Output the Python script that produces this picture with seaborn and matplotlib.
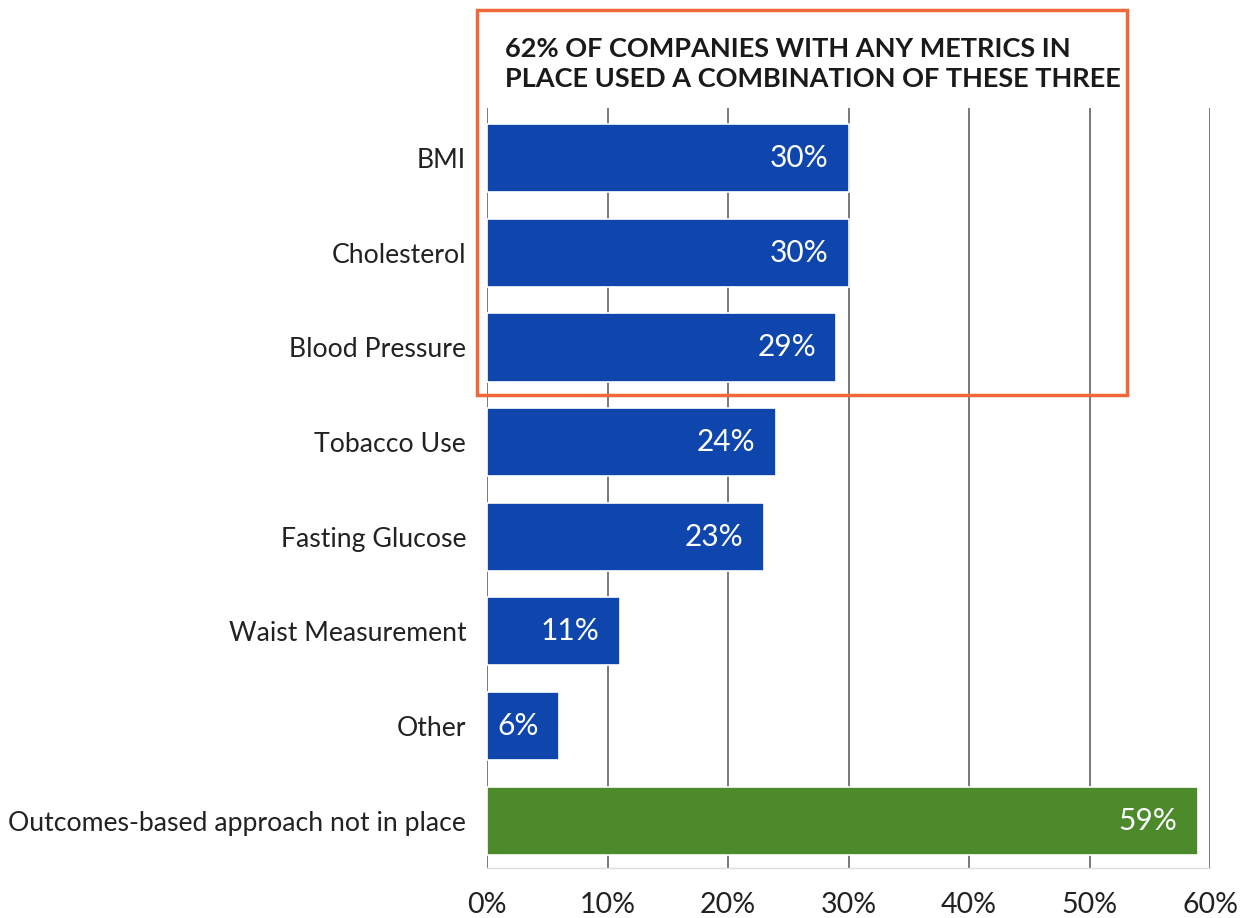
import matplotlib
matplotlib.use("Agg")
import matplotlib.pyplot as plt
import matplotlib.patches as mpatches
import seaborn as sns
import pandas as pd

categories = ["BMI", "Cholesterol", "Blood Pressure", "Tobacco Use", "Fasting Glucose",
              "Waist Measurement", "Other", "Outcomes-based approach not in place"]
values = [30, 30, 29, 24, 23, 11, 6, 59]
bar_colors = ["#0E46AE"] * 7 + ["#4C8A2C"]
x_ticks = [0, 10, 20, 30, 40, 50, 60]
x_tick_labels = ["0%", "10%", "20%", "30%", "40%", "50%", "60%"]
callout = "62% OF COMPANIES WITH ANY METRICS IN\nPLACE USED A COMBINATION OF THESE THREE"

sns.set_theme(style="white")
plt.rcParams["font.family"] = ["Lato", "DejaVu Sans"]

df = pd.DataFrame({"category": categories, "value": values})

W, H = 1247, 918
fig = plt.figure(figsize=(W / 100, H / 100), dpi=100)
ax = fig.add_axes([487 / W, 1 - 868 / H, (1210 - 487) / W, (868 - 108) / H])

sns.barplot(data=df, y="category", x="value", hue="category", palette=bar_colors,
            orient="h", width=0.72, legend=False, ax=ax, saturation=1,
            edgecolor="white", linewidth=1.2, zorder=3)

ax.set_xlim(0, 60)
ax.set_ylim(7.5, -0.53)
ax.set_xticks(x_ticks)
ax.set_xticklabels(x_tick_labels, fontsize=20.5, color="#222222")
ax.tick_params(axis="y", labelsize=19.2, colors="#222222", length=0, pad=15)
ax.tick_params(axis="x", length=0, pad=17)
ax.set_xlabel("")
ax.set_ylabel("")
for x in x_ticks:
    ax.axvline(x, color="#555555", lw=1.1, zorder=1)
for s in ["top", "right", "left"]:
    ax.spines[s].set_visible(False)
ax.spines["bottom"].set_color("#dddddd")
ax.spines["bottom"].set_linewidth(1)

for i, v in enumerate(values):
    ax.text(v - 1.7, i, f"{v}%", ha="right", va="center", color="white",
            fontsize=21.5, zorder=5)

rect = mpatches.Rectangle((477 / W, 1 - 395 / H), (1127 - 477) / W, (395 - 10) / H,
                          transform=fig.transFigure, fill=False, edgecolor="#F0683A",
                          linewidth=2.5, zorder=10)
fig.patches.append(rect)
fig.text(505 / W, 1 - 37 / H, callout, ha="left", va="top", fontsize=19.5,
         fontweight="bold", color="#1a1a1a", linespacing=1.3)

fig.savefig("out.png", dpi=100, facecolor="white")
